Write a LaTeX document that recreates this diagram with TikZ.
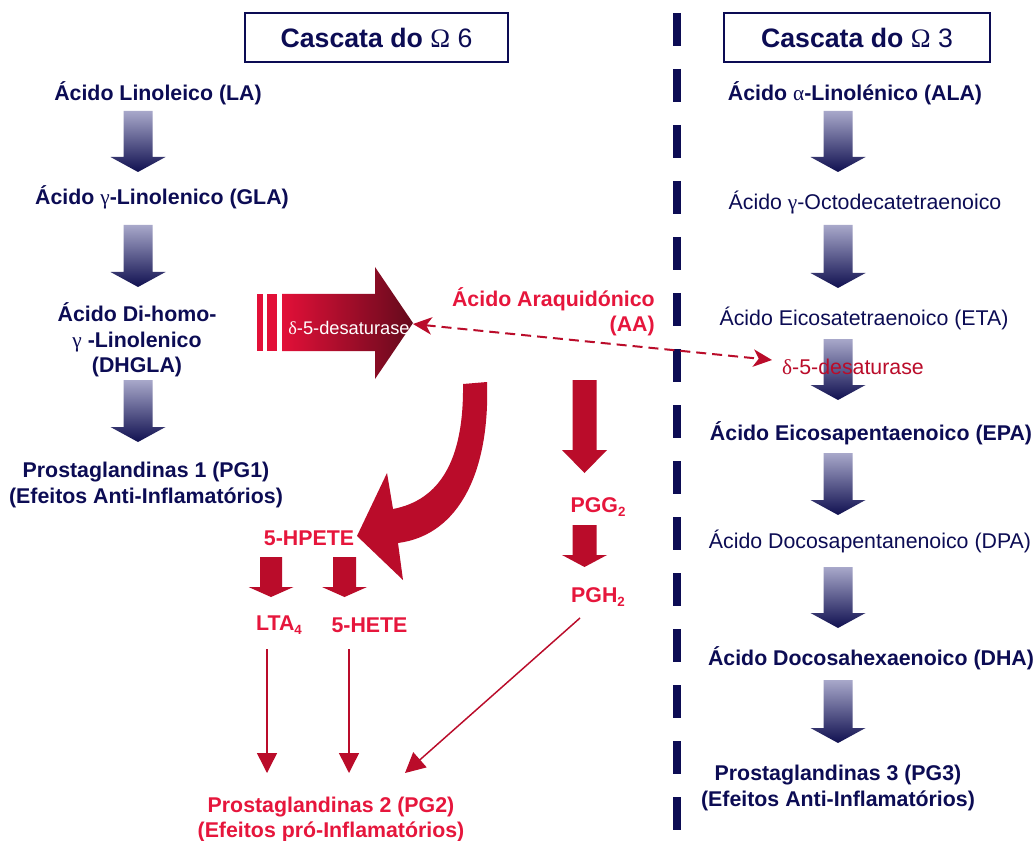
\documentclass[tikz,border=0pt]{standalone}
\usepackage{fontspec}
\setmainfont{Liberation Sans}
\newfontfamily\grk{Liberation Serif}
\usetikzlibrary{arrows.meta}
\definecolor{navy}{RGB}{12,12,84}
\definecolor{txtred}{RGB}{230,22,60}
\definecolor{arrred}{RGB}{186,12,42}
\definecolor{grtop}{RGB}{168,168,202}
\definecolor{grbot}{RGB}{16,16,80}
\definecolor{hlft}{RGB}{226,16,56}
\definecolor{hrgt}{RGB}{100,10,28}
\newcommand{\gk}[1]{{\grk\mdseries #1}}
\newcommand{\bodysize}{\fontsize{16}{19}\selectfont}
\newcommand{\lowsub}[1]{\raisebox{-0.3ex}{\fontsize{10}{10}\selectfont #1}}
% navy gradient block arrow: centre x, top y, tip y
\newcommand{\navyarrow}[3]{%
  \shade[top color=grtop, bottom color=grbot]
    (#1-14.5,#2) -- (#1+14.5,#2) -- (#1+14.5,#3-15) -- (#1+27.5,#3-15)
    -- (#1,#3) -- (#1-27.5,#3-15) -- (#1-14.5,#3-15) -- cycle;}
% solid red block arrow: centre x, top y, tip y, shaft half width, head half width, head length
\newcommand{\redarrow}[6]{%
  \fill[arrred]
    (#1-#4,#2) -- (#1+#4,#2) -- (#1+#4,#3-#6) -- (#1+#5,#3-#6)
    -- (#1,#3) -- (#1-#5,#3-#6) -- (#1-#4,#3-#6) -- cycle;}
\tikzset{
  lbl/.style={font=\bodysize\bfseries, text=navy, align=center, inner sep=0pt},
  lblreg/.style={font=\bodysize, text=navy, align=center, inner sep=0pt},
  redlbl/.style={font=\bodysize\bfseries, text=txtred, align=center, inner sep=0pt},
  titlebox/.style={draw=navy, line width=1.5pt, minimum height=37pt, inner sep=0pt,
    text=navy, font=\fontsize{20}{24}\selectfont\bfseries},
  thinarrow/.style={draw=arrred, line width=1.1pt, -{Triangle[length=15pt,width=15pt]}},
  dasharrow/.style={draw=arrred, line width=1.5pt, dash pattern=on 7.5pt off 4.5pt,
    {Stealth[length=14pt,width=13pt,inset=4pt]}-{Stealth[length=14pt,width=13pt,inset=4pt]}},
}
\begin{document}
\begin{tikzpicture}[x=0.75pt, y=-0.75pt]
\useasboundingbox (0,0) rectangle (1034,841);
\fill[white] (0,0) rectangle (1034,841);

% divider
\draw[navy, line width=6pt, dash pattern=on 24.75pt off 17.25pt] (677,13) -- (677,841);

% titles
\node[titlebox, minimum width=197pt] (t6) at (376.5,37.5) {Cascata do \gk{Ω} {\mdseries 6}};
\node[titlebox, minimum width=199.5pt] (t3) at (857,37.5) {Cascata do \gk{Ω} {\mdseries 3}};

% Omega 6 column
\node[lbl] (la) at (158,93) {Ácido Linoleico (LA)};
\navyarrow{138}{111}{172}
\node[lbl] (gla) at (162,197) {Ácido \gk{γ}-Linolenico (GLA)};
\navyarrow{138}{225}{287}
\node[lbl] (dhgla) at (137,340) {Ácido Di-homo-\\\gk{γ} -Linolenico\\(DHGLA)};
\navyarrow{138}{380}{442}
\node[lbl] (pg1) at (146,485) {Prostaglandinas 1 (PG1)\\(Efeitos Anti-Inflamatórios)};

% Omega 3 column
\node[lbl] (ala) at (855,93) {Ácido \gk{α}-Linolénico (ALA)};
\navyarrow{838}{111}{172}
\node[lblreg] (octo) at (865,203) {Ácido \gk{γ}-Octodecatetraenoico};
\navyarrow{838}{225}{288}
\node[lblreg] (eta) at (864,318) {Ácido Eicosatetraenoico (ETA)};
\navyarrow{838}{339}{400}
\node[font=\bodysize, text=arrred, inner sep=0pt] (desR) at (853,367) {\gk{δ}-5-desaturase};
\node[lbl] (epa) at (871,433) {Ácido Eicosapentaenoico (EPA)};
\navyarrow{838}{453}{515}
\node[lblreg] (dpa) at (870,541) {Ácido Docosapentanenoico (DPA)};
\navyarrow{838}{567}{628}
\node[lbl] (dha) at (871,658) {Ácido Docosahexaenoico (DHA)};
\navyarrow{838}{680}{743}
\node[lbl] (pg3) at (838,788) {Prostaglandinas 3 (PG3)\\(Efeitos Anti-Inflamatórios)};

% big horizontal desaturase arrow
\fill[hlft] (257,294) rectangle (263,351);
\fill[hlft] (267,294) rectangle (277,351);
\shade[left color=hlft, right color=hrgt]
  (282,294) -- (375,294) -- (375,267) -- (413,323) -- (375,379) -- (375,351) -- (282,351) -- cycle;
\node[font=\fontsize{13.7}{16}\selectfont, text=white, inner sep=0pt] (desL) at (349,328) {\gk{δ}-5-desaturase};
\coordinate (desTip) at (413,324);
\coordinate (desEnd) at (772,360);
\draw[dasharrow] (desTip) -- (desEnd);

% arachidonic acid
\node[redlbl, align=right, anchor=east] (aa) at (655,311.5) {Ácido Araquidónico\\(AA)};

% curved arrow to 5-HPETE
\fill[arrred] (487,382) .. controls (490,470) and (460,535) .. (398,543)
  -- (403,580) -- (357,536) -- (387,473) -- (393,509)
  .. controls (440,500) and (464,460) .. (463,384) -- cycle;

% straight arrows on the right branch
\redarrow{584.5}{380}{473}{12}{22.5}{23}
\node[redlbl] (pgg) at (598,507) {PGG\lowsub{2}};
\redarrow{584.5}{525}{567}{12}{22.5}{12}
\node[redlbl] (pgh) at (598,597) {PGH\lowsub{2}};

% 5-HPETE branch
\node[redlbl] (hpete) at (309,538) {5-HPETE};
\redarrow{271}{557}{597}{11}{22.5}{10}
\redarrow{344.5}{557}{597}{11.5}{22.5}{10}
\node[redlbl] (lta) at (279,625) {LTA\lowsub{4}};
\node[redlbl] (hete) at (369.5,625) {5-HETE};

% thin arrows to PG2
\node[redlbl] (pg2) at (331,819.5) {Prostaglandinas 2 (PG2)\\(Efeitos pró-Inflamatórios)};
\coordinate (ltaOut) at (267,649);
\coordinate (heteOut) at (349,649);
\coordinate (pghOut) at (580,618);
\coordinate (pg2A) at (267,773);
\coordinate (pg2B) at (349,773);
\coordinate (pg2C) at (405,773);
\draw[thinarrow] (ltaOut) -- (pg2A);
\draw[thinarrow] (heteOut) -- (pg2B);
\draw[thinarrow] (pghOut) -- (pg2C);
\end{tikzpicture}
\end{document}
